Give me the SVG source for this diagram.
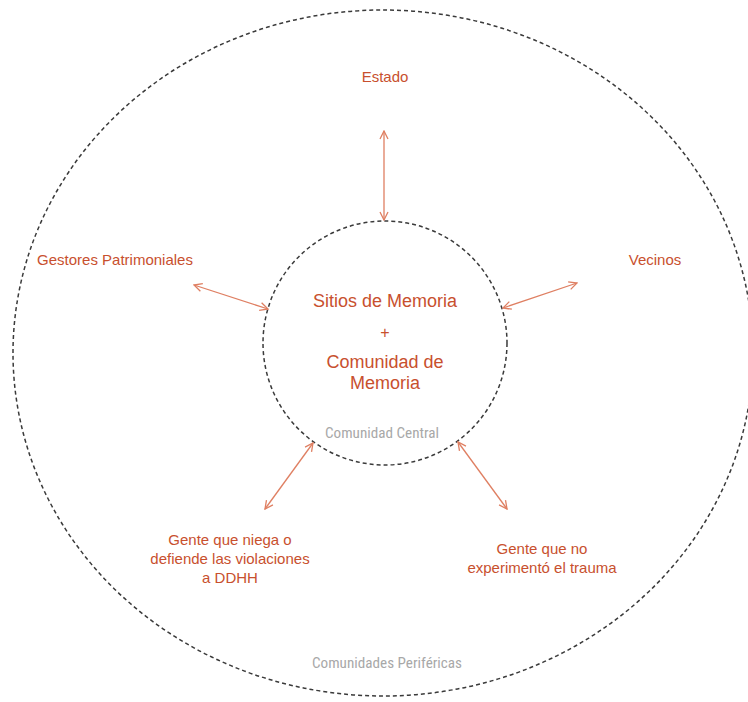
<svg xmlns="http://www.w3.org/2000/svg" width="748" height="702" viewBox="0 0 748 702">
<style>
.ring{fill:none;stroke:#3a3a3a;stroke-width:1.5;stroke-dasharray:4 3}
.lbl{font-family:"Liberation Sans",Arial,sans-serif;fill:#c8502e;text-anchor:middle}
.gray{font-family:"Liberation Sans Narrow","Roboto Condensed","Liberation Sans",sans-serif;fill:#a8a8a8;text-anchor:middle}
.arr{stroke:#df7f62;stroke-width:1.3;fill:none;marker-start:url(#ah);marker-end:url(#ah)}
</style>
<defs>
<marker id="ah" viewBox="0 0 10 10" refX="9" refY="5" markerWidth="10" markerHeight="10" markerUnits="userSpaceOnUse" orient="auto-start-reverse">
<path d="M1,1 L9,5 L1,9" fill="none" stroke="#df7f62" stroke-width="1.3"/>
</marker>
</defs>
<rect width="748" height="702" fill="#ffffff"/>
<g id="outer">
<ellipse class="ring" cx="383" cy="353" rx="370" ry="343"/>
<text class="gray" x="387" y="668" font-size="15" textLength="150" lengthAdjust="spacingAndGlyphs">Comunidades Periféricas</text>
</g>
<g id="central">
<circle class="ring" cx="385" cy="343" r="122"/>
<text class="lbl" x="385" y="307" font-size="18">Sitios de Memoria</text>
<text class="lbl" x="385" y="338" font-size="16">+</text>
<text class="lbl" x="385" y="368" font-size="18">Comunidad de</text>
<text class="lbl" x="385" y="389" font-size="18">Memoria</text>
<text class="gray" x="382" y="438" font-size="15" textLength="114" lengthAdjust="spacingAndGlyphs">Comunidad Central</text>
</g>
<g id="estado"><text class="lbl" x="385" y="82" font-size="15">Estado</text></g>
<g id="gestores"><text class="lbl" x="115" y="265" font-size="15">Gestores Patrimoniales</text></g>
<g id="vecinos"><text class="lbl" x="655" y="265" font-size="15">Vecinos</text></g>
<g id="niega">
<text class="lbl" x="230" y="545" font-size="15">Gente que niega o</text>
<text class="lbl" x="230" y="564" font-size="15">defiende las violaciones</text>
<text class="lbl" x="230" y="583" font-size="15">a DDHH</text>
</g>
<g id="noexp">
<text class="lbl" x="542" y="554" font-size="15">Gente que no</text>
<text class="lbl" x="542" y="573" font-size="15">experimentó el trauma</text>
</g>
<g id="connectors">
<line class="arr" x1="384" y1="131" x2="384" y2="220"/>
<line class="arr" x1="194" y1="285" x2="268" y2="309"/>
<line class="arr" x1="577" y1="283" x2="503" y2="308"/>
<line class="arr" x1="313" y1="443" x2="265" y2="509"/>
<line class="arr" x1="458" y1="442" x2="507" y2="509"/>
</g>
</svg>
